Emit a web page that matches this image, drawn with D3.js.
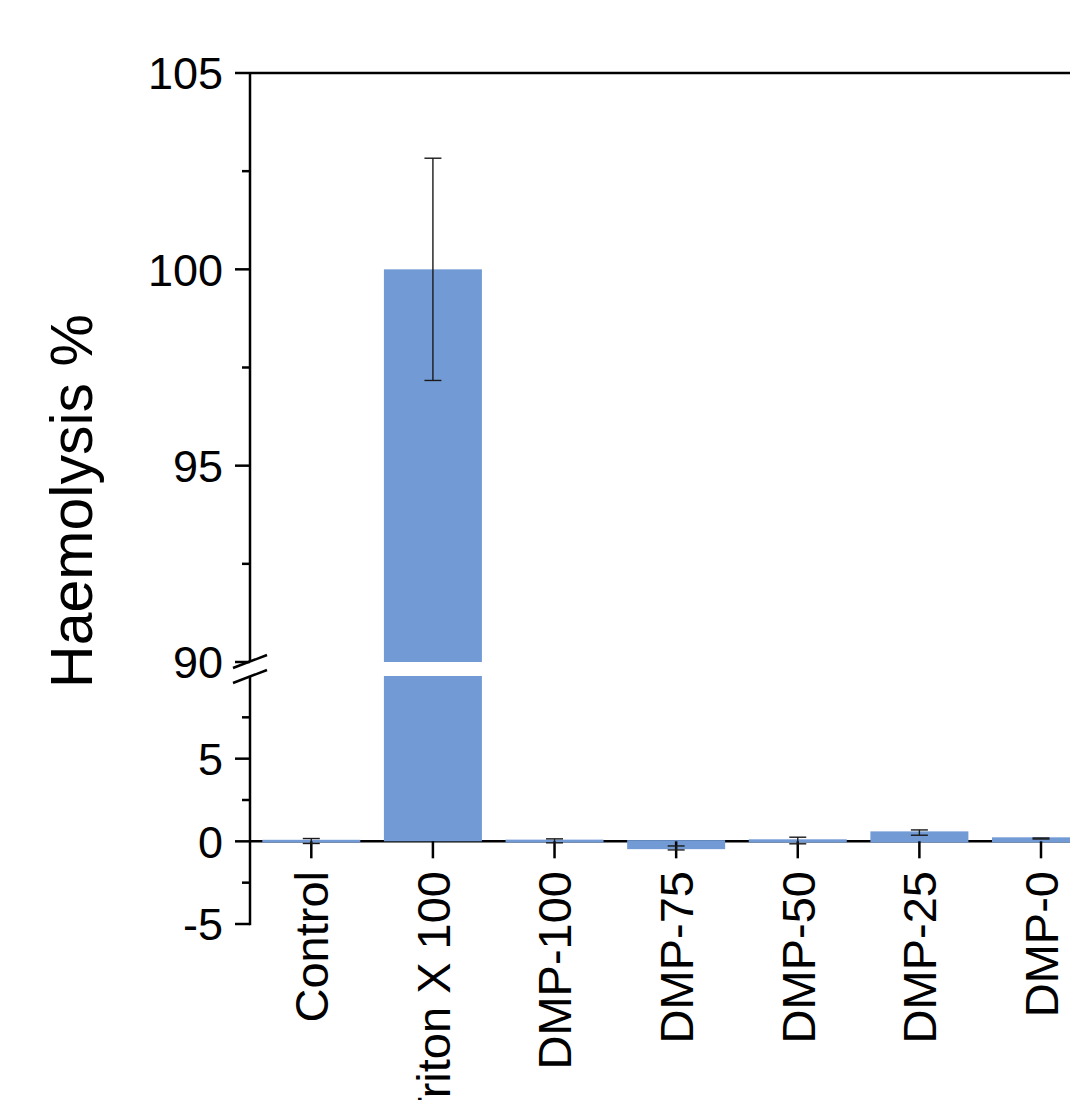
<!DOCTYPE html>
<html>
<head>
<meta charset="utf-8">
<script src="https://cdn.jsdelivr.net/npm/d3@7"></script>
<style>
  html, body { margin: 0; padding: 0; background: #ffffff; }
  svg { display: block; }
  text { font-family: "Liberation Sans", Arial, sans-serif; fill: #000; }
</style>
</head>
<body>
<svg id="chart" width="1070" height="1100"></svg>
<script>
// ---- data ----
const categories = ["Control", "Triton X 100", "DMP-100", "DMP-75", "DMP-50", "DMP-25", "DMP-0"];
const values = [0.02, 100, 0.03, -0.4, 0.05, 0.53, 0.17];
const errors = [0.15, 2.83, 0.12, 0.12, 0.2, 0.16, 0.03];
const upperTicks = [90, 95, 100, 105];
const upperMinor = [92.5, 97.5, 102.5];
const lowerTicks = [-5, 0, 5];
const lowerMinor = [-2.5, 2.5, 7.5];

// ---- layout ----
const svg = d3.select("#chart");
const axisX = 250;
const W = 1070;
const barColor = "#729bd6";
const barWidth = 98;

const yUp = d3.scaleLinear().domain([90, 105]).range([662, 73]);
const yLo = d3.scaleLinear().domain([-5, 10]).range([924, 676]);
const x = d3.scaleLinear().domain([0, 6]).range([311.3, 1041]);

const yVal = v => (v > 10 ? yUp(v) : yLo(v));

// zero baseline (x-axis)
svg.append("line")
  .attr("x1", axisX).attr("x2", W)
  .attr("y1", yLo(0)).attr("y2", yLo(0))
  .attr("stroke", "#000").attr("stroke-width", 2.5);

// bars
const data = categories.map((c, i) => ({ c, i, v: values[i], e: errors[i] }));
const g = svg.append("g");
data.forEach(d => {
  const cx = x(d.i);
  if (d.v > 10) {
    g.append("rect")
      .attr("x", cx - barWidth / 2).attr("width", barWidth)
      .attr("y", yLo(10)).attr("height", yLo(0) - yLo(10))
      .attr("fill", barColor);
    g.append("rect")
      .attr("x", cx - barWidth / 2).attr("width", barWidth)
      .attr("y", yUp(d.v)).attr("height", yUp(90) - yUp(d.v))
      .attr("fill", barColor);
  } else {
    const y0 = yLo(0), y1 = yLo(d.v);
    g.append("rect")
      .attr("x", cx - barWidth / 2).attr("width", barWidth)
      .attr("y", Math.min(y0, y1) - 1.2).attr("height", Math.abs(y1 - y0) + 2.4)
      .attr("fill", barColor);
  }
});

// x ticks (downward)
data.forEach(d => {
  svg.append("line")
    .attr("x1", x(d.i)).attr("x2", x(d.i))
    .attr("y1", yLo(0)).attr("y2", yLo(0) + 17)
    .attr("stroke", "#000").attr("stroke-width", 2.5);
});

// error bars
data.forEach(d => {
  const cx = x(d.i);
  const yt = yVal(d.v + d.e), yb = yVal(d.v - d.e);
  const eg = svg.append("g").attr("stroke", "#1a1a1a").attr("stroke-width", 1.4);
  eg.append("line").attr("x1", cx).attr("x2", cx).attr("y1", yt).attr("y2", yb);
  eg.append("line").attr("x1", cx - 8.5).attr("x2", cx + 8.5).attr("y1", yt).attr("y2", yt);
  eg.append("line").attr("x1", cx - 8.5).attr("x2", cx + 8.5).attr("y1", yb).attr("y2", yb);
});

// y axis lines
svg.append("line").attr("x1", axisX).attr("x2", axisX)
  .attr("y1", yUp(105)).attr("y2", 662)
  .attr("stroke", "#000").attr("stroke-width", 2.5);
svg.append("line").attr("x1", axisX).attr("x2", axisX)
  .attr("y1", 677).attr("y2", yLo(-5) + 1.2)
  .attr("stroke", "#000").attr("stroke-width", 2.5);
// top frame line
svg.append("line").attr("x1", axisX - 15).attr("x2", W)
  .attr("y1", yUp(105)).attr("y2", yUp(105))
  .attr("stroke", "#000").attr("stroke-width", 2.5);

// ticks and labels
function tick(y, len) {
  svg.append("line").attr("x1", axisX - len).attr("x2", axisX)
    .attr("y1", y).attr("y2", y)
    .attr("stroke", "#000").attr("stroke-width", 2.5);
}
function label(y, t) {
  svg.append("text").attr("x", axisX - 27).attr("y", y)
    .attr("dy", "0.36em").attr("text-anchor", "end")
    .attr("font-size", 45).text(t);
}
upperTicks.forEach(t => { if (t !== 105) tick(yUp(t), 15); label(yUp(t), String(t)); });
upperMinor.forEach(t => tick(yUp(t), 8));
lowerTicks.forEach(t => { tick(yLo(t), 15); label(yLo(t), String(t)); });
lowerMinor.forEach(t => tick(yLo(t), 8));

// break marks
[[668, 655], [683, 670]].forEach(([ya, yb]) => {
  svg.append("line").attr("x1", 233).attr("x2", 267)
    .attr("y1", ya).attr("y2", yb)
    .attr("stroke", "#000").attr("stroke-width", 2.5);
});

// category labels
data.forEach(d => {
  svg.append("text")
    .attr("transform", `translate(${x(d.i)},871) rotate(-90)`)
    .attr("text-anchor", "end").attr("dy", "0.36em")
    .attr("font-size", 47).text(d.c);
});

// y axis title
svg.append("text")
  .attr("transform", "translate(92,501) rotate(-90)")
  .attr("text-anchor", "middle")
  .attr("font-size", 59).text("Haemolysis %");
</script>
</body>
</html>
